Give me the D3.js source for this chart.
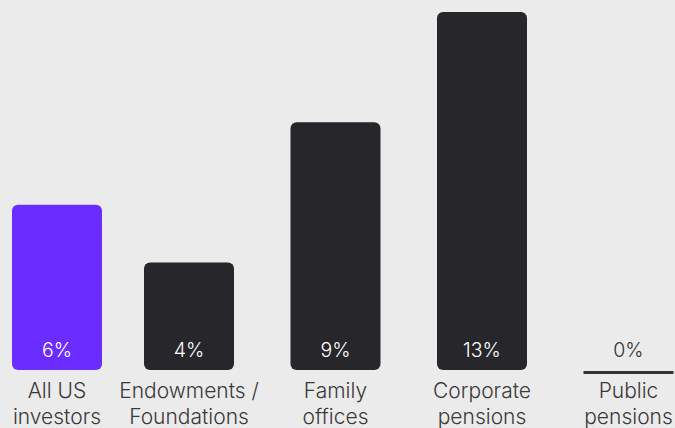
<!DOCTYPE html>
<html><head><meta charset="utf-8">
<script src="https://cdn.jsdelivr.net/npm/d3@7"></script>
<style>html,body{margin:0;padding:0;background:#ebebeb;overflow:hidden}</style>
</head><body>
<svg id="chart" width="675" height="428"></svg>
<script>
const categories = [["All US","investors"],["Endowments /","Foundations"],["Family","offices"],["Corporate","pensions"],["Public","pensions"]];
const values = [6.0, 3.9, 9.0, 13.0, 0];
const labels = ["6%","4%","9%","13%","0%"];
const highlight = [true,false,false,false,false];

const W = 675, H = 428;
const svg = d3.select("#chart");
svg.append("rect").attr("width",W).attr("height",H).attr("fill","#ebebeb");
const keys = categories.map(c=>c.join(" "));
const x = d3.scaleBand().domain(keys).range([-2.5, 673.5]).paddingInner(0.3857).paddingOuter(0);
const y = d3.scaleLinear().domain([0,13]).range([370,12]);
const left = 12;
const bx = i => Math.max(x(keys[i]), left);
const font = "Inter, 'Noto Sans', sans-serif";

const g = svg.append("g");
values.forEach((v,i)=>{
  const xi = bx(i), bw = x.bandwidth();
  if (v > 0) {
    g.append("rect").attr("x",xi).attr("y",y(v)).attr("width",bw).attr("height",y(0)-y(v))
      .attr("rx",6).attr("ry",6).attr("fill",highlight[i]?"#6b2cff":"#27262b");
    g.append("text").attr("x",xi+bw/2).attr("y",357).attr("text-anchor","middle")
      .attr("fill","#ffffff").attr("font-family",font).attr("font-weight",300).attr("font-size",19.5).text(labels[i]);
  } else {
    g.append("rect").attr("x",xi).attr("y",y(0)+1).attr("width",bw).attr("height",3).attr("fill","#333338");
    g.append("text").attr("x",xi+bw/2).attr("y",357).attr("text-anchor","middle")
      .attr("fill","#333333").attr("font-family",font).attr("font-weight",300).attr("font-size",19.5).text(labels[i]);
  }
  categories[i].forEach((line,j)=>{
    g.append("text").attr("x",xi+bw/2).attr("y",398+j*26).attr("text-anchor","middle")
      .attr("fill","#3a3a3a").attr("font-family",font).attr("font-weight",300).attr("font-size",21).text(line);
  });
});
</script>
</body></html>
